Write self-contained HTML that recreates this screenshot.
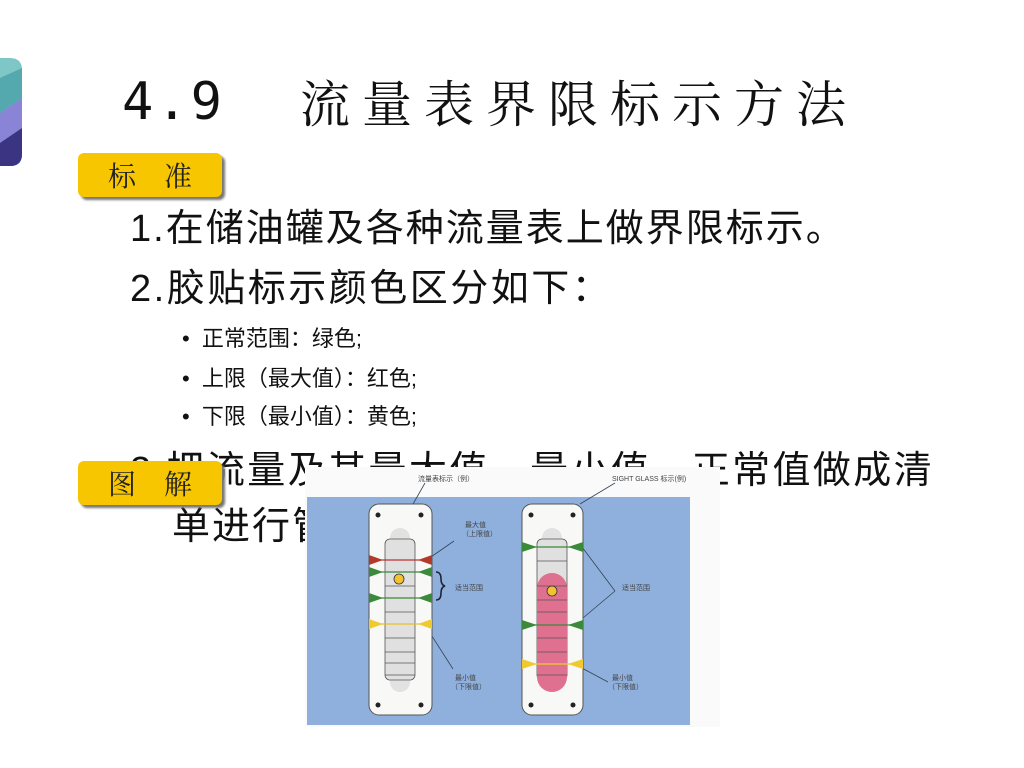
<!DOCTYPE html>
<html><head><meta charset="utf-8"><style>
body{margin:0;width:1024px;height:768px;background:#fff;position:relative;overflow:hidden;font-family:"Liberation Sans","Noto Sans CJK SC",sans-serif;color:#111}
.t{position:absolute;white-space:nowrap;line-height:1}
.lab{position:absolute;left:78px;width:144px;height:44px;background:#f7c600;border-radius:6px;box-shadow:3px 3px 2px #777;font-family:"Noto Serif CJK SC",serif;font-size:28px;line-height:44px;text-align:center;letter-spacing:28px;text-indent:28px;color:#222}
</style></head><body>
<svg style="position:absolute;left:0;top:58px" width="22" height="108">
<path d="M0 0 H10 Q22 0 22 12 V96 Q22 108 10 108 H0Z" fill="#7fc7c6"/>
<path d="M0 55 L22 40 V96 Q22 108 10 108 H0Z" fill="#8a84d6"/>
<path d="M0 85 L22 70 V96 Q22 108 10 108 H0Z" fill="#3b3482"/>
<path d="M0 20 L22 10 V40 L0 55Z" fill="#54a9ae"/>
</svg>
<div class="t" style="left:122px;top:76px;font-size:52px;font-family:'DejaVu Sans Mono','Liberation Mono',monospace;letter-spacing:3px">4.9</div>
<div class="t" style="left:300px;top:76px;font-size:50px;font-family:'Noto Serif CJK SC',serif;letter-spacing:12px">流量表界限标示方法</div>
<div class="lab" style="top:153px">标准</div>
<div class="t" style="left:130px;top:210px;font-size:38px;letter-spacing:2px">1.在储油罐及各种流量表上做界限标示。</div>
<div class="t" style="left:130px;top:270px;font-size:38px;letter-spacing:2.5px">2.胶贴标示颜色区分如下：</div>
<div class="t" style="left:182px;top:328px;font-size:22px">•&nbsp; 正常范围：绿色;</div>
<div class="t" style="left:182px;top:368px;font-size:22px">•&nbsp; 上限（最大值）：红色;</div>
<div class="t" style="left:182px;top:406px;font-size:22px">•&nbsp; 下限（最小值）：黄色;</div>
<div class="t" style="left:130px;top:452px;font-size:38px;letter-spacing:2.4px">3.把流量及其最大值、最小值、正常值做成清</div>
<div class="t" style="left:172px;top:508px;font-size:38px;letter-spacing:2px">单进行管理</div>
<div class="lab" style="top:461px">图解</div>
<svg style="position:absolute;left:0;top:0" width="1024" height="768">
<rect x="305" y="467" width="415" height="260" fill="#fafafa"/>
<rect x="307" y="497" width="383" height="228" fill="#8fb0dc"/>
<g font-size="7" fill="#444" font-family="Liberation Sans,Noto Sans CJK SC,sans-serif">
<text x="418" y="481">流量表标示（例）</text><text x="612" y="481">SIGHT GLASS 标示(例)</text>
<text x="465" y="527">最大值</text><text x="462" y="536">（上限值）</text>
<text x="455" y="590">适当范围</text><text x="622" y="590">适当范围</text>
<text x="455" y="680">最小值</text><text x="451" y="689">（下限值）</text>
<text x="612" y="680">最小值</text><text x="608" y="689">（下限值）</text>
</g>
<g stroke="#345" stroke-width="0.8" fill="none">
<path d="M425 483 L413 504 M615 483 L580 504 M454 541 L428 559 M453 669 L430 633 M615 591 L582 547 M615 591 L577 623 M608 682 L580 667"/>
<path d="M436 572 q5 0 5 7 q0 6 4 7 q-4 1 -4 7 q0 7 -5 7" stroke="#223" stroke-width="1.6"/>
</g>
<rect x="369" y="504" width="63" height="211" rx="10" fill="#f8f8f6" stroke="#555" stroke-width="1"/>
<rect x="390" y="528" width="20" height="164" rx="10" fill="#e2e2e2"/>
<rect x="385" y="539" width="30" height="141" rx="5" fill="#e0e0e0" stroke="#555" stroke-width="0.8"/>
<g stroke="#555" stroke-width="0.8"><path d="M385 586H415M385 612H415M385 638H415M385 652H415M385 663H415M385 675H415"/></g>
<g stroke-width="1.2"><path d="M369 560H432" stroke="#b33"/><path d="M369 572H432M369 598H432" stroke="#3a8a3a"/><path d="M369 624H432" stroke="#e6c020"/></g>
<path d="M369 555L383 560L369 565ZM432 555L418 560L432 565Z" fill="#b33a2a"/>
<path d="M369 567L383 572L369 577ZM432 567L418 572L432 577ZM369 593L383 598L369 603ZM432 593L418 598L432 603Z" fill="#3a8a3a"/>
<path d="M369 619L383 624L369 629ZM432 619L418 624L432 629Z" fill="#f0c830"/>
<circle cx="399" cy="579" r="5" fill="#f2c230" stroke="#333" stroke-width="0.8"/>
<g fill="#222"><circle cx="378" cy="515" r="2.5"/><circle cx="421" cy="515" r="2.5"/><circle cx="378" cy="705" r="2.5"/><circle cx="421" cy="705" r="2.5"/></g>
<rect x="522" y="504" width="61" height="211" rx="10" fill="#f8f8f6" stroke="#555" stroke-width="1"/>
<rect x="542" y="528" width="20" height="60" rx="10" fill="#e2e2e2"/>
<rect x="537" y="539" width="30" height="141" rx="5" fill="#e0e0e0" stroke="#555" stroke-width="0.8"/>
<rect x="537" y="573" width="30" height="119" rx="15" fill="#e0708f"/>
<g stroke="#555" stroke-width="0.8"><path d="M537 561H567M537 586H567M537 600H567M537 612H567M537 638H567M537 652H567M537 675H567"/></g>
<g stroke-width="1.2"><path d="M522 547H583M522 625H583" stroke="#3a8a3a"/><path d="M522 664H583" stroke="#f0c830"/></g>
<path d="M522 542L537 547L522 552ZM583 542L568 547L583 552ZM522 620L537 625L522 630ZM583 620L568 625L583 630Z" fill="#3a8a3a"/>
<path d="M522 659L537 664L522 669ZM583 659L568 664L583 669Z" fill="#f0c830"/>
<circle cx="552" cy="591" r="5" fill="#f2c230" stroke="#333" stroke-width="0.8"/>
<g fill="#222"><circle cx="531" cy="515" r="2.5"/><circle cx="573" cy="515" r="2.5"/><circle cx="531" cy="705" r="2.5"/><circle cx="573" cy="705" r="2.5"/></g>
</svg>
</body></html>
